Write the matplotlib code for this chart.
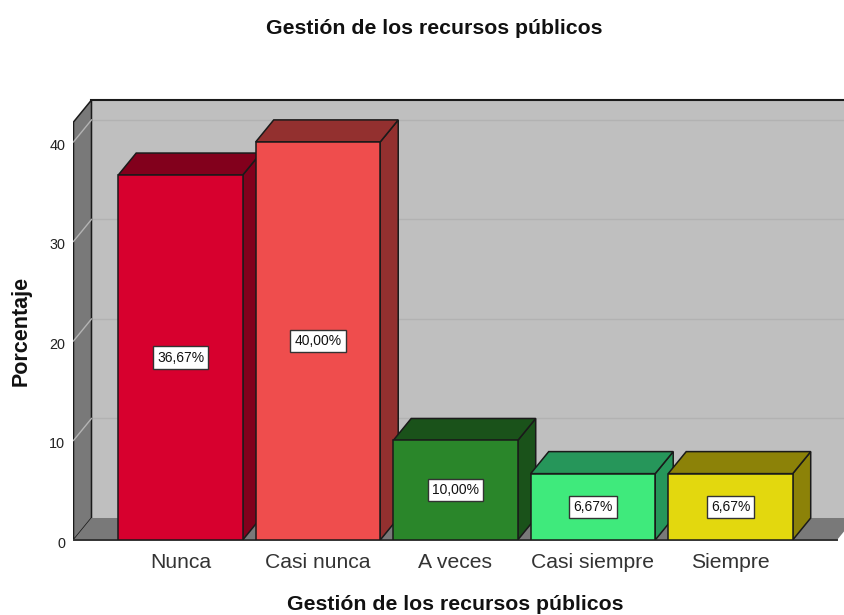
import matplotlib
matplotlib.use('Agg')
import matplotlib.pyplot as plt
from matplotlib.transforms import ScaledTranslation

plt.rcParams['font.family'] = ['Liberation Sans', 'DejaVu Sans']

categories = ['Nunca', 'Casi nunca', 'A veces', 'Casi siempre', 'Siempre']
values = [36.67, 40.0, 10.0, 6.67, 6.67]
value_labels = ['36,67%', '40,00%', '10,00%', '6,67%', '6,67%']
y_ticks = [0, 10, 20, 30, 40]
front_colors = ['#D7002E', '#EF4D4D', '#2A862A', '#3FEA7C', '#E3D80E']
side_colors = ['#82001C', '#93302F', '#1A521A', '#26965A', '#8C8208']

W, H = 845, 615
DX = 18 / 137.5   # depth in category units
DY = 22 / 9.95    # depth in percent units
BAR_W = 124.5 / 137.5
X0, X1 = -0.778, 4.833
FLOOR_END = 4.775
Y_TOP = 42.0
EDGE = '#1a1a1a'

fig = plt.figure(figsize=(W / 100, H / 100), dpi=100)
ax = fig.add_axes([73.5 / W, (H - 540) / H, (W - 73.5) / W, 440 / H])
ax.set_xlim(X0, X1)
ax.set_ylim(0, Y_TOP + DY)
for s in ax.spines.values():
    s.set_visible(False)

# walls and floor
ax.fill([X0 + DX, FLOOR_END + DX, FLOOR_END + DX, X0 + DX], [DY, DY, Y_TOP + DY, Y_TOP + DY],
        facecolor='#BFBFBF', edgecolor='none', zorder=1)
ax.fill([X0, X0 + DX, X0 + DX, X0], [0, DY, Y_TOP + DY, Y_TOP],
        facecolor='#797979', edgecolor=EDGE, linewidth=1.1, zorder=2)
ax.fill([X0, FLOOR_END, FLOOR_END + DX, X0 + DX], [0, 0, DY, DY],
        facecolor='#797979', edgecolor='none', zorder=2)
ax.plot([X0, FLOOR_END], [0, 0], color='#333333', linewidth=1.4, zorder=2, clip_on=False)
ax.plot([X0 + DX, X1], [Y_TOP + DY, Y_TOP + DY], color=EDGE, linewidth=1.5, zorder=3, clip_on=False)

# gridlines on back wall and side wall
for t in y_ticks[1:]:
    ax.plot([X0 + DX, X1], [t + DY, t + DY], color='#B2B2B2', linewidth=1, zorder=1.5)
    ax.plot([X0, X0 + DX], [t, t + DY], color='#B4B4B4', linewidth=1, zorder=2.5)

# bars
for i, (v, fc, sc, lab) in enumerate(zip(values, front_colors, side_colors, value_labels)):
    l, r = i - BAR_W / 2, i + BAR_W / 2
    z = 4 + i
    ax.fill([r, r + DX, r + DX, r], [0, DY, v + DY, v], facecolor=sc, edgecolor=EDGE, linewidth=1.1, zorder=z)
    ax.fill([l, r, r + DX, l + DX], [v, v, v + DY, v + DY], facecolor=sc, edgecolor=EDGE, linewidth=1.1, zorder=z)
    ax.fill([l, r, r, l], [0, 0, v, v], facecolor=fc, edgecolor=EDGE, linewidth=1.1, zorder=z)
    ax.text(i, v / 2, lab, ha='center', va='center', fontsize=10, color='#111111', zorder=20,
            bbox=dict(boxstyle='square,pad=0.3', facecolor='white', edgecolor='#333333', linewidth=1))

ax.set_xticks(range(len(categories)))
ax.set_xticklabels(categories, fontsize=15.2, color='#333333')
ax.set_yticks(y_ticks)
ax.set_yticklabels([str(t) for t in y_ticks], fontsize=10.4, color='#222222')
ax.tick_params(axis='x', length=0, pad=9)
ax.tick_params(axis='y', length=0, pad=6)
for lab in ax.get_yticklabels():
    lab.set_transform(lab.get_transform() + ScaledTranslation(0, -2.5 / 100, fig.dpi_scale_trans))

fig.text(434 / W, 1 - 28 / H, 'Gestión de los recursos públicos', ha='center', va='center',
         fontsize=15.3, fontweight='bold', color='#111111')
fig.text(455 / W, 1 - 604 / H, 'Gestión de los recursos públicos', ha='center', va='center',
         fontsize=15.3, fontweight='bold', color='#111111')
fig.text(21 / W, 1 - 331 / H, 'Porcentaje', ha='center', va='center', rotation=90,
         fontsize=15.5, fontweight='bold', color='#111111')

fig.savefig('out.png', dpi=100, facecolor='white')
